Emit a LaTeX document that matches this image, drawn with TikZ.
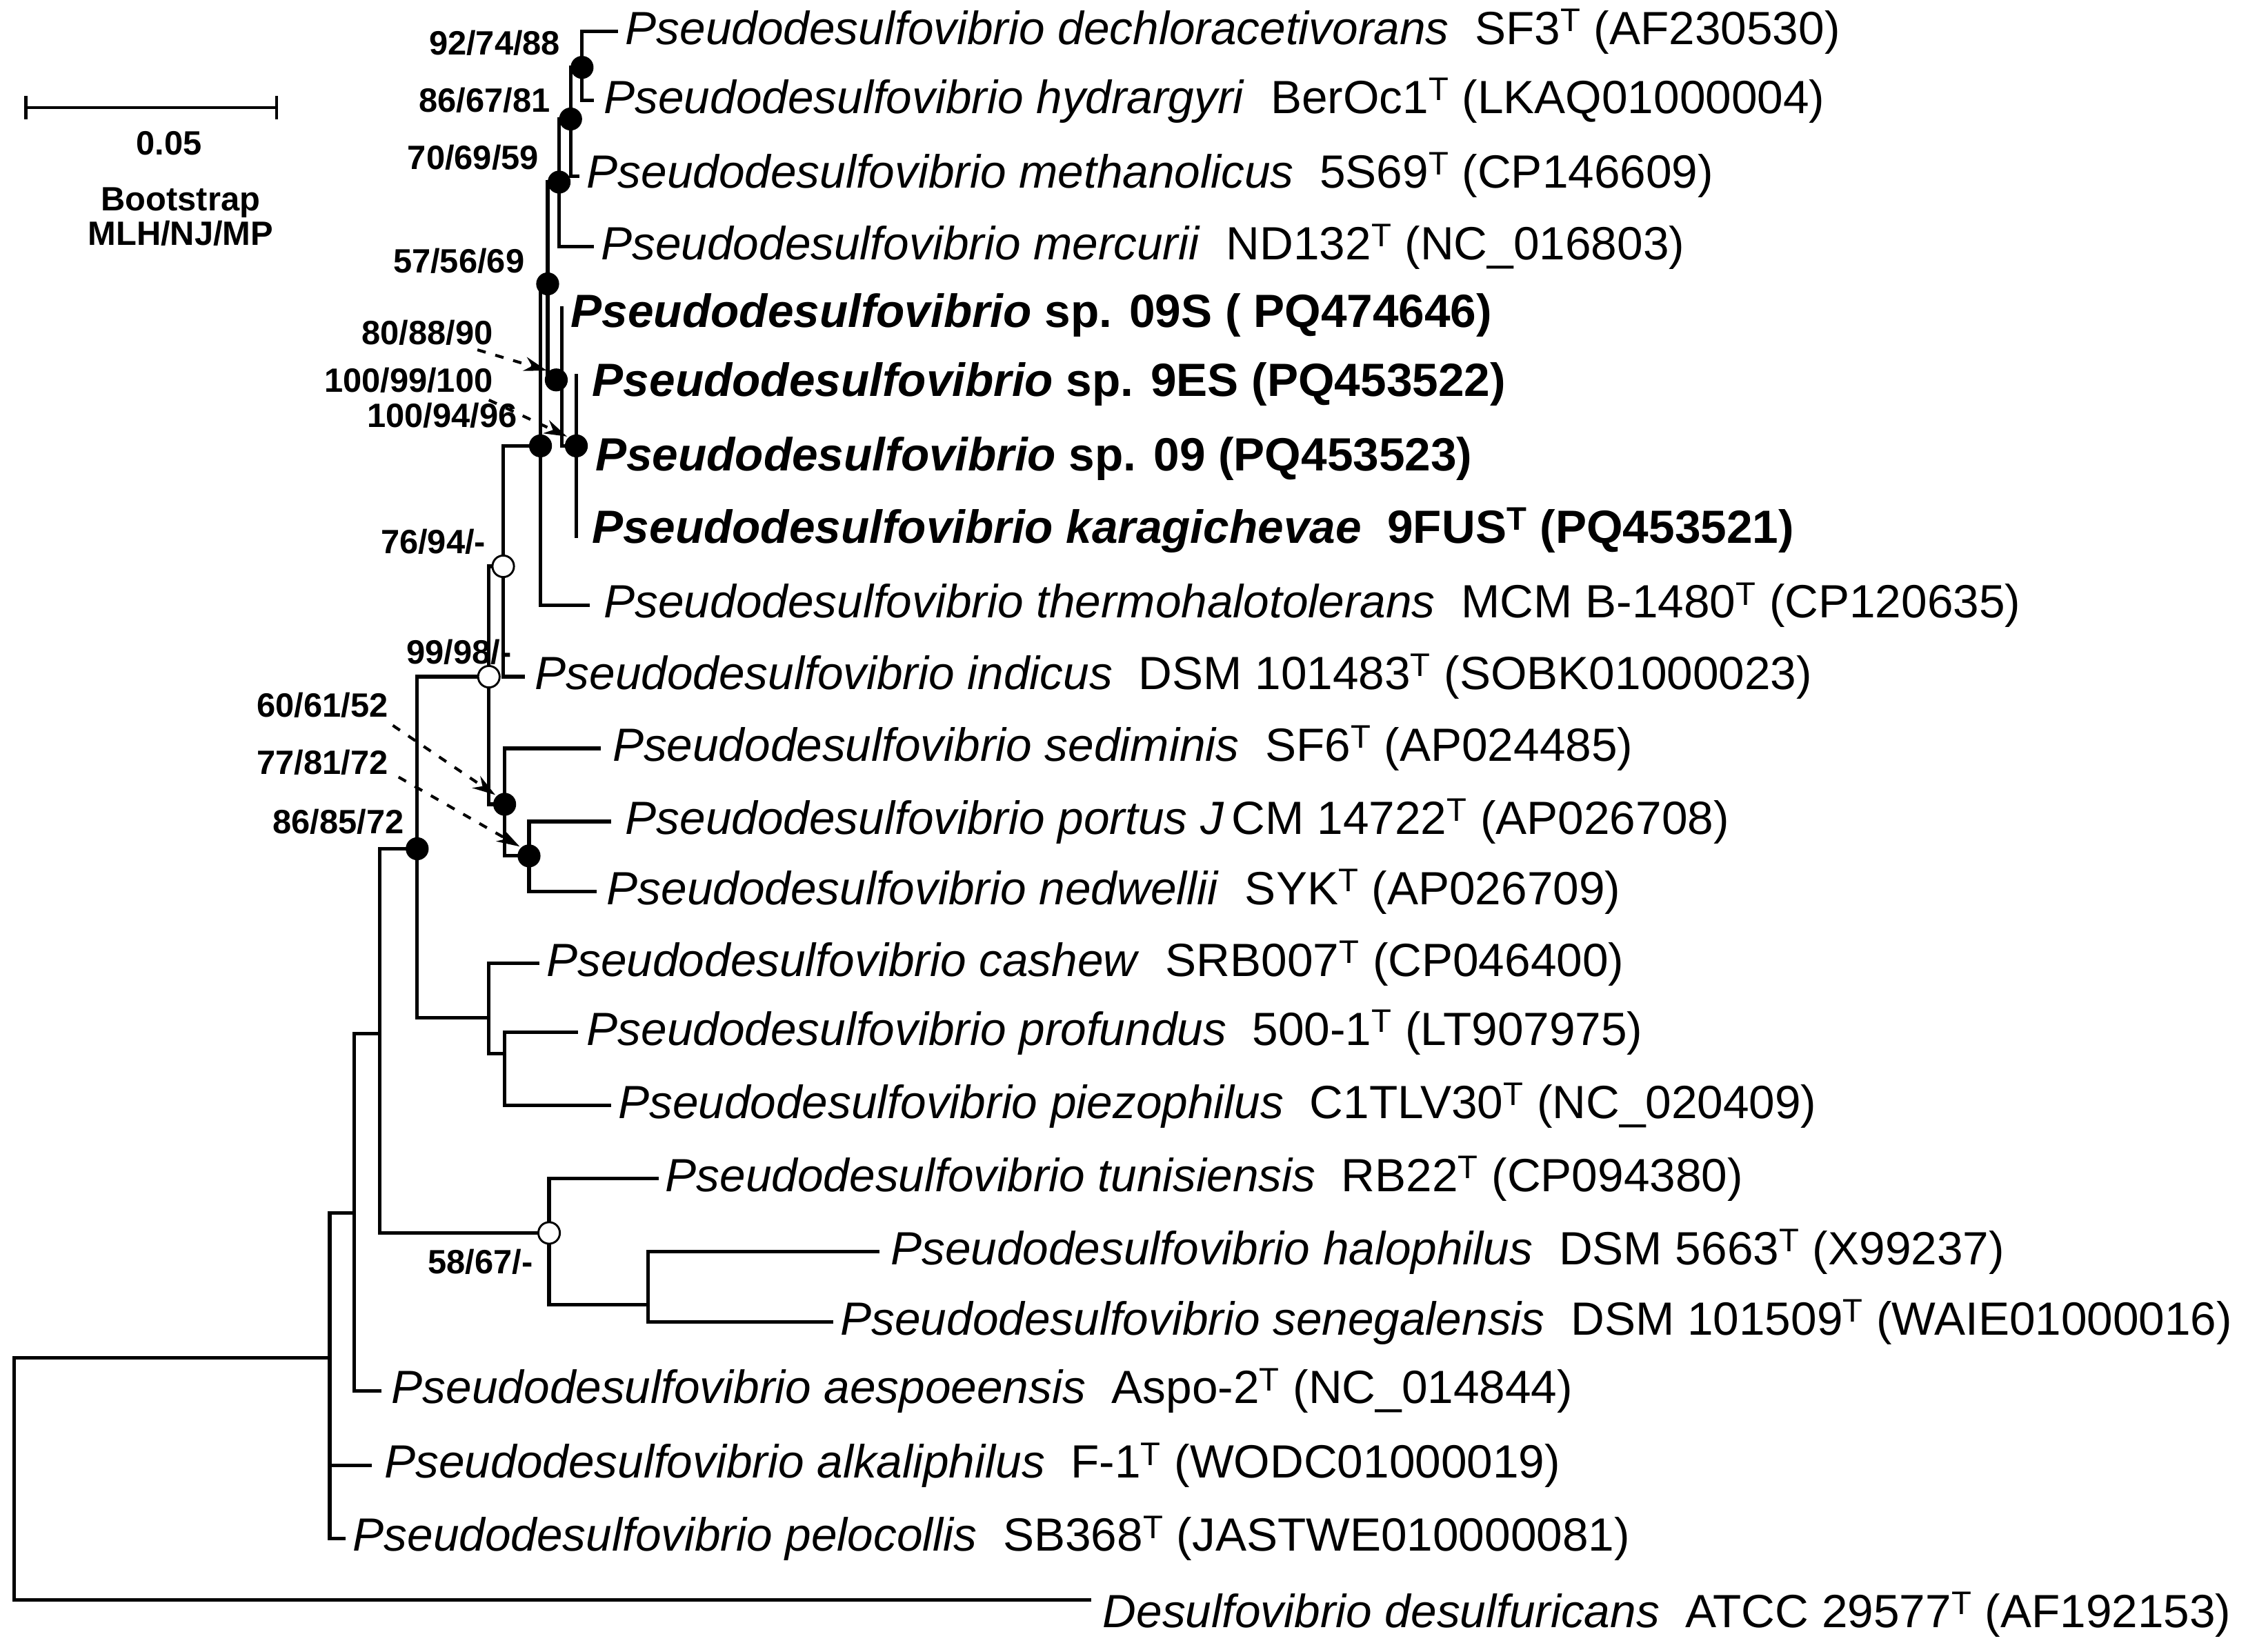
\documentclass[tikz,border=0pt]{standalone}
\usepackage{fontspec}
\setmainfont{Liberation Sans}
\usetikzlibrary{arrows.meta}
\begin{document}
\begin{tikzpicture}[x=1pt,y=-1pt,line width=2.5pt,
  br/.style={line cap=rect},
  fdot/.style={circle,fill=black,inner sep=0pt,minimum size=16pt},
  odot/.style={circle,draw=black,fill=white,line width=1.4pt,inner sep=0pt,minimum size=15pt},
  tip/.style={anchor=west,inner sep=0pt,font=\fontsize{32.5}{34}\selectfont},
  btip/.style={anchor=west,inner sep=0pt,font=\fontsize{32.5}{34}\bfseries\selectfont},
  sup/.style={anchor=east,inner sep=0pt,font=\fontsize{23.5}{25}\bfseries\selectfont},
  pt/.style={line width=2pt,dash pattern=on 6pt off 7pt,-{Stealth[length=16pt,width=10pt]}}]
\useasboundingbox (0,0) rectangle (1568,1152);
% scale bar
\draw[line width=2.2pt] (18,75) -- (193,75);
\draw[line width=2.2pt] (18,67) -- (18,83) (193,67) -- (193,83);
\node[font=\fontsize{23.5}{25}\bfseries\selectfont] (sc) at (118,100) {0.05};
\node[font=\fontsize{23.5}{25}\bfseries\selectfont,align=center] (bs) at (126,151) {Bootstrap\\[-1pt]MLH/NJ/MP};
% tip labels
\node[tip] (t1) at (435,22) {\textit{Pseudodesulfovibrio dechloracetivorans}~~SF3\textsuperscript{T} (AF230530)};
\node[tip] (t2) at (420,70) {\textit{Pseudodesulfovibrio hydrargyri}~~BerOc1\textsuperscript{T} (LKAQ01000004)};
\node[tip] (t3) at (408,122) {\textit{Pseudodesulfovibrio methanolicus}~~5S69\textsuperscript{T} (CP146609)};
\node[tip] (t4) at (418,172) {\textit{Pseudodesulfovibrio mercurii}~~ND132\textsuperscript{T} (NC\_016803)};
\node[btip] (t5) at (397,220) {\textit{Pseudodesulfovibrio} sp. 09S ( PQ474646)};
\node[btip] (t6) at (412,268) {\textit{Pseudodesulfovibrio} sp. 9ES (PQ453522)};
\node[btip] (t7) at (414,320) {\textit{Pseudodesulfovibrio} sp. 09 (PQ453523)};
\node[btip] (t8) at (412,370) {\textit{Pseudodesulfovibrio karagichevae}~~9FUS\textsuperscript{T} (PQ453521)};
\node[tip] (t9) at (420,422) {\textit{Pseudodesulfovibrio thermohalotolerans}~~MCM B-1480\textsuperscript{T} (CP120635)};
\node[tip] (t10) at (372,472) {\textit{Pseudodesulfovibrio indicus}~~DSM 101483\textsuperscript{T} (SOBK01000023)};
\node[tip] (t11) at (426,522) {\textit{Pseudodesulfovibrio sediminis}~~SF6\textsuperscript{T} (AP024485)};
\node[tip] (t12) at (435,573) {\textit{Pseudodesulfovibrio portus J}\,CM 14722\textsuperscript{T} (AP026708)};
\node[tip] (t13) at (422,622) {\textit{Pseudodesulfovibrio nedwellii}~~SYK\textsuperscript{T} (AP026709)};
\node[tip] (t14) at (380,672) {\textit{Pseudodesulfovibrio cashew}~~SRB007\textsuperscript{T} (CP046400)};
\node[tip] (t15) at (408,720) {\textit{Pseudodesulfovibrio profundus}~~500-1\textsuperscript{T} (LT907975)};
\node[tip] (t16) at (430,771) {\textit{Pseudodesulfovibrio piezophilus}~~C1TLV30\textsuperscript{T} (NC\_020409)};
\node[tip] (t17) at (463,822) {\textit{Pseudodesulfovibrio tunisiensis}~~RB22\textsuperscript{T} (CP094380)};
\node[tip] (t18) at (620,873) {\textit{Pseudodesulfovibrio halophilus}~~DSM 5663\textsuperscript{T} (X99237)};
\node[tip] (t19) at (585,922) {\textit{Pseudodesulfovibrio senegalensis}~~DSM 101509\textsuperscript{T} (WAIE01000016)};
\node[tip] (t20) at (272,970) {\textit{Pseudodesulfovibrio aespoeensis}~~Aspo-2\textsuperscript{T} (NC\_014844)};
\node[tip] (t21) at (267,1022) {\textit{Pseudodesulfovibrio alkaliphilus}~~F-1\textsuperscript{T} (WODC01000019)};
\node[tip] (t22) at (245,1073) {\textit{Pseudodesulfovibrio pelocollis}~~SB368\textsuperscript{T} (JASTWE010000081)};
\node[tip] (t23) at (768,1126) {\textit{Desulfovibrio desulfuricans}~~ATCC 29577\textsuperscript{T} (AF192153)};
% branches
\draw[br] (430,22) -| (406,70) -- (413,70);
\draw[br] (406,47) -| (398,123) -- (403,123);
\draw[br] (398,83) -| (390,172) -- (413,172);
\draw[br] (390,127) -| (382,265) -- (388,265);
\draw[br] (392,215) -- (392,311) -- (402,311);
\draw[br] (402,262) -- (402,374);
\draw[br] (382,198) -| (377,422) -- (410,422);
\draw[br] (377,311) -| (351,472) -- (365,472);
\draw[br] (351,395) -| (341,561) -- (352,561);
\draw[br] (418,522) -| (352,597) -- (369,597);
\draw[br] (425,573) -| (369,622) -- (415,622);
\draw[br] (341,472) -| (291,710) -- (341,710);
\draw[br] (375,672) -| (341,735) -- (352,735);
\draw[br] (402,720) -| (352,771) -- (425,771);
\draw[br] (291,592) -| (265,860) -- (383,860);
\draw[br] (458,822) -| (383,910) -- (452,910);
\draw[br] (612,873) -| (452,922) -- (580,922);
\draw[br] (265,721) -| (247,970) -- (265,970);
\draw[br] (247,846) -| (230,1073) -- (240,1073);
\draw[br] (230,1022) -- (258,1022);
\draw[br] (230,947) -| (10,1116) -- (760,1116);
% support dots
\node[fdot] (d1) at (406,47) {};
\node[fdot] (d2) at (398,83) {};
\node[fdot] (d3) at (390,127) {};
\node[fdot] (d4) at (382,198) {};
\node[fdot] (d5) at (388,265) {};
\node[fdot] (d6) at (402,311) {};
\node[fdot] (d7) at (377,311) {};
\node[odot] (d8) at (351,395) {};
\node[odot] (d9) at (341,472) {};
\node[fdot] (d10) at (352,561) {};
\node[fdot] (d11) at (369,597) {};
\node[fdot] (d12) at (291,592) {};
\node[odot] (d13) at (383,860) {};
% support labels
\node[sup] (s1) at (392,30) {92/74/88};
\node[sup] (s2) at (385,70) {86/67/81};
\node[sup] (s3) at (377,110) {70/69/59};
\node[sup] (s4) at (367,182) {57/56/69};
\node[sup] (s5) at (345,232) {80/88/90};
\node[sup] (s6) at (345,265) {100/99/100};
\node[sup] (s7) at (362,290) {100/94/96};
\node[sup] (s8) at (340,378) {76/94/-};
\node[sup] (s9) at (358,455) {99/98/-};
\node[sup] (s10) at (272,492) {60/61/52};
\node[sup] (s11) at (272,532) {77/81/72};
\node[sup] (s12) at (283,573) {86/85/72};
\node[sup] (s13) at (373,880) {58/67/-};
\draw[pt] (s5.south east) ++(-12,2) -- (d5.north west);
\draw[pt] (s6.south east) ++(-4,4) -- (d6.north west);
\draw[pt] (s10.south east) ++(2,4) -- (d10.north west);
\draw[pt] (s11.south east) ++(6,0) -- (d11.north west);
\end{tikzpicture}
\end{document}
